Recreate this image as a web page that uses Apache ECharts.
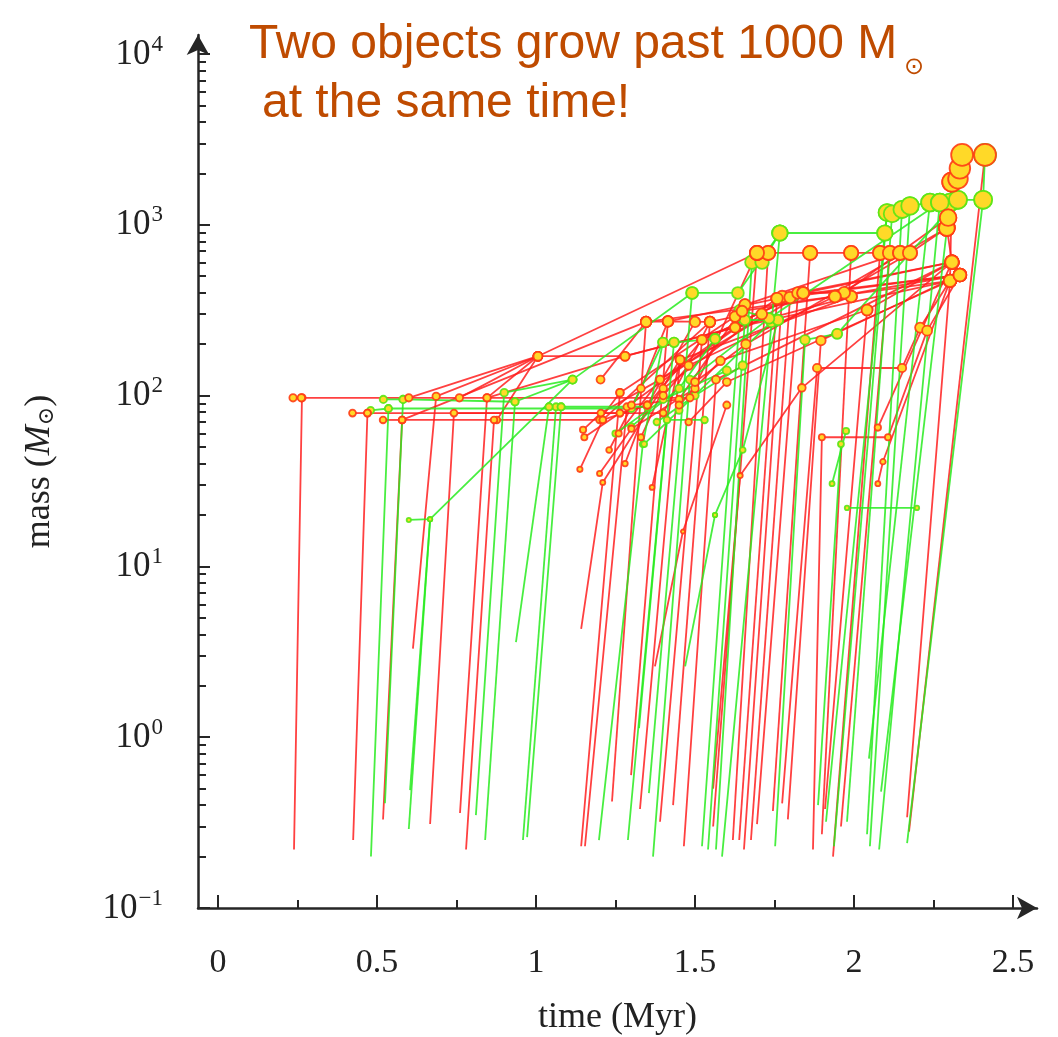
<!DOCTYPE html>
<html><head><meta charset="utf-8">
<script src="https://cdn.jsdelivr.net/npm/echarts@6/dist/echarts.min.js"></script>
<style>html,body{margin:0;padding:0;background:#fff}#c{width:1058px;height:1037px}</style>
</head><body><div id="c"></div>
<script>
// ---- tick labels ----
const xTicks = [0, 0.5, 1, 1.5, 2, 2.5];
const xMinorTicks = [0.25, 0.75, 1.25, 1.75, 2.25];
const yDecades = [-1, 0, 1, 2, 3, 4];          // exponents of 10 (mass in M_sun)
const yMinorFactors = [2, 3, 4, 5, 6, 7, 8, 9];

// ---- merger-tree tracks: [time (Myr), mass (M_sun)] ----
const redTracks = [
 [[0.239,0.22],[0.264,97],[1.484,97],[1.695,684]],
 [[0.236,97],[0.262,97]],
 [[0.425,0.25],[0.47,79],[1.40,79],[1.547,270]],
 [[0.423,79],[0.47,79]],
 [[0.519,0.33],[0.579,72],[0.877,72],[1.006,170]],
 [[0.519,72],[0.579,72]],
 [[0.613,3.3],[0.686,99],[1.006,170]],
 [[0.667,0.31],[0.742,79],[1.264,79],[1.35,88]],
 [[0.761,0.36],[0.846,97],[1.006,170]],
 [[0.78,0.22],[0.868,72],[1.2,72],[1.264,104]],
 [[0.6,97],[1.006,170],[1.28,170],[1.626,250]],
 [[0.759,97],[1.006,170]],
 [[0.846,97],[1.28,170]],
 [[0.579,72],[1.346,270],[1.415,272],[1.547,270],[1.626,290]],
 [[1.138,37],[1.21,72],[1.35,88],[1.5,270]],
 [[1.142,4.3],[1.21,31],[1.453,162]],
 [[1.142,0.23],[1.264,104],[1.626,290]],
 [[1.154,0.23],[1.286,86],[1.758,370]],
 [[1.148,63],[1.204,79],[1.39,124],[1.84,399]],
 [[1.152,57],[1.264,79]],
 [[1.203,124],[1.346,270]],
 [[1.21,72],[1.547,270]],
 [[1.2,35],[1.3,64],[1.5,110]],
 [[1.23,48],[1.33,110],[1.415,272]],
 [[1.26,60],[1.39,124],[1.626,250]],
 [[1.28,40],[1.35,88],[1.522,212]],
 [[1.30,88],[1.45,95],[1.657,340]],
 [[1.33,57],[1.40,110],[1.71,300]],
 [[1.40,100],[1.48,150],[1.94,380]],
 [[1.45,88],[1.58,160],[2.041,317]],
 [[1.48,70],[1.6,120],[2.302,470]],
 [[1.50,120],[1.66,200],[2.292,957]],
 [[1.239,0.42],[1.346,270]],
 [[1.299,0.6],[1.415,272]],
 [[1.327,0.38],[1.453,162],[1.991,380]],
 [[1.365,29],[1.453,162]],
 [[1.374,2.6],[1.462,16],[1.6,88]],
 [[1.39,0.32],[1.522,212],[1.84,399]],
 [[1.431,0.4],[1.547,270]],
 [[1.465,0.23],[1.566,124],[2.308,604]],
 [[1.557,0.3],[1.695,684]],
 [[1.557,0.5],[1.642,34],[1.836,111],[2.308,604]],
 [[1.619,0.25],[1.73,684]],
 [[1.639,0.25],[1.758,370]],
 [[1.654,0.22],[1.774,380],[2.333,508]],
 [[1.676,0.25],[1.799,375]],
 [[1.695,0.31],[1.824,399],[2.308,604]],
 [[1.745,0.37],[1.862,684]],
 [[1.774,0.41],[1.884,145],[2.151,145],[2.208,250],[2.302,470]],
 [[1.792,0.33],[1.896,210],[2.333,508]],
 [[1.871,0.22],[1.899,57],[2.107,57],[2.23,240],[2.333,508]],
 [[1.899,0.27],[1.991,684]],
 [[1.909,0.38],[2.041,317],[2.308,604]],
 [[1.934,0.2],[2.082,684]],
 [[1.959,0.3],[2.113,684]],
 [[2.075,30.5],[2.091,41],[2.302,470]],
 [[2.075,65],[2.308,604]],
 [[1.695,684],[1.73,684],[1.862,684],[1.991,684],[2.082,684],[2.113,684],[2.145,684],[2.176,684],[2.292,957]],
 [[2.167,0.34],[2.302,470],[2.308,1780]],
 [[2.173,0.28],[2.412,2565]],
 [[2.292,957],[2.296,1100],[2.308,1780],[2.327,1860],[2.333,2140],[2.34,2565]],
 [[2.302,470],[2.333,508],[2.308,604],[2.292,957]],
 [[1.28,170],[1.991,380]],
 [[1.346,270],[2.302,470]],
 [[1.415,272],[2.308,604]],
 [[1.626,250],[2.302,470]],
 [[1.758,370],[2.333,508]],
 [[1.84,399],[1.969,400],[2.296,1100]],
 [[1.94,380],[2.333,508]],
 [[1.006,170],[1.695,684]],
 [[1.522,212],[1.84,399]],
 [[1.657,340],[2.145,684]],
 [[1.648,312],[1.94,380],[2.176,684]]
];

const greenTracks = [
 [[0.481,0.2],[0.536,84],[1.30,84],[1.399,205]],
 [[0.48,82],[0.536,84]],
 [[0.525,0.41],[0.582,95],[0.934,92],[1.115,124]],
 [[0.52,95],[0.582,95]],
 [[0.6,0.29],[0.667,18.9]],
 [[0.604,0.49],[0.667,18.9]],
 [[0.6,18.7],[0.667,18.9],[1.115,124],[1.491,399],[1.635,399],[1.767,895]],
 [[0.811,0.35],[0.9,104],[1.115,124]],
 [[0.84,0.25],[0.934,92]],
 [[0.937,3.6],[1.041,86]],
 [[0.959,0.25],[1.063,86]],
 [[0.972,0.26],[1.079,86],[1.35,86]],
 [[1.041,86],[1.079,86]],
 [[1.198,0.25],[1.336,52],[1.399,205],[1.434,205]],
 [[1.289,0.25],[1.434,205],[1.563,215]],
 [[1.324,1.13],[1.412,72],[1.53,72]],
 [[1.355,0.47],[1.491,399]],
 [[1.368,0.2],[1.484,124],[1.733,283]],
 [[1.25,60],[1.4,95],[1.6,140]],
 [[1.3,66],[1.45,110],[1.563,215]],
 [[1.38,70],[1.5,100],[1.65,150]],
 [[1.34,52],[1.45,82],[1.74,270]],
 [[1.469,2.6],[1.563,20]],
 [[1.563,20],[1.65,48],[1.761,277]],
 [[1.522,0.23],[1.642,317],[1.733,283]],
 [[1.541,0.22],[1.657,277],[1.761,277]],
 [[1.566,0.22],[1.679,604],[1.711,604],[1.767,895]],
 [[1.585,0.2],[1.767,895],[2.097,895],[2.104,1180],[2.12,1160],[2.151,1230],[2.176,1290],[2.239,1350],[2.27,1350],[2.302,1350],[2.327,1400],[2.406,1400],[2.412,2565]],
 [[1.752,0.23],[1.846,212],[1.947,230]],
 [[1.887,0.4],[1.959,52]],
 [[1.912,0.32],[2.097,895]],
 [[1.937,0.23],[2.104,1180]],
 [[1.978,0.32],[2.12,1160]],
 [[2.041,0.27],[2.151,1230]],
 [[2.05,0.23],[2.176,1290]],
 [[2.047,0.75],[2.239,1350]],
 [[2.079,0.22],[2.27,1350]],
 [[2.085,0.48],[2.302,1350]],
 [[2.167,0.24],[2.406,1400]],
 [[1.931,30.5],[1.975,62]],
 [[1.978,22],[2.198,22]],
 [[1.733,283],[2.27,1350]],
 [[1.947,230],[2.327,1400]]
];

// ---- build option ----
const RED = 'rgba(255,30,30,0.85)';
const GREEN = 'rgba(40,235,30,0.85)';
const FILL = '#ffd928';
const toXY = p => [p[0], Math.log10(p[1])];

const series = [];
function addLines(tracks, color) {
  tracks.forEach(tr => {
    series.push({
      type: 'line', xAxisIndex: 0, yAxisIndex: 0, silent: true,
      data: tr.map(toXY), showSymbol: false, symbol: 'none',
      lineStyle: { color: color, width: 1.8 }, z: 2, animation: false
    });
  });
}
addLines(redTracks, RED);
addLines(greenTracks, GREEN);

function markerData(tracks) {
  const out = [];
  tracks.forEach(tr => tr.forEach(p => { if (p[1] >= 10) out.push(toXY(p)); }));
  return out;
}
const sizeOf = v => 1.6 * Math.cbrt(Math.pow(10, v[1]));
series.push({
  type: 'scatter', silent: true, z: 4, animation: false,
  data: markerData(greenTracks), symbolSize: sizeOf,
  itemStyle: { color: FILL, borderColor: 'rgba(90,230,20,0.9)', borderWidth: 1.8, opacity: 1 }
});
series.push({
  type: 'scatter', silent: true, z: 5, animation: false,
  data: markerData(redTracks), symbolSize: sizeOf,
  itemStyle: { color: FILL, borderColor: 'rgba(255,60,20,0.9)', borderWidth: 1.8, opacity: 1 }
});

const AX = '#262626';
const SERIF = '"Liberation Serif", "DejaVu Serif", serif';
const yMinor = [];
yDecades.slice(0, -1).forEach(n => yMinorFactors.forEach(k => yMinor.push(n + Math.log10(k))));

const option = {
  animation: false,
  backgroundColor: '#fff',
  grid: { left: 198, right: 21, top: 35, bottom: 129, containLabel: false, outerBoundsMode: 'none' },
  xAxis: [{
    type: 'value', min: -0.0629, max: 2.5755,
    name: 'time (Myr)', nameLocation: 'middle', nameGap: 90,
    nameTextStyle: { fontFamily: SERIF, fontSize: 36, color: '#222', lineHeight: 40 },
    axisLine: { show: true, onZero: false, symbol: ['none', 'arrow'], symbolSize: [17, 20], lineStyle: { color: AX, width: 2.5 } },
    axisTick: { show: true, inside: true, length: 13, customValues: xTicks, lineStyle: { color: AX, width: 2 } },
    axisLabel: { customValues: xTicks, fontFamily: SERIF, fontSize: 34, color: '#222', margin: 38, lineHeight: 34 },
    splitLine: { show: false }
  }, {
    type: 'value', min: -0.0629, max: 2.5755, position: 'bottom',
    axisLine: { show: false, onZero: false },
    axisTick: { show: true, inside: true, length: 8, customValues: xMinorTicks, lineStyle: { color: AX, width: 2 } },
    axisLabel: { show: false }, splitLine: { show: false }
  }],
  yAxis: [{
    type: 'value', min: -1, max: 4.111,
    name: '{t|mass (}{i|M}{o|⊙}{t|)}', nameLocation: 'middle', nameGap: 140, nameRotate: 90,
    nameTextStyle: {
      rich: {
        t: { fontFamily: SERIF, fontSize: 36, color: '#222', lineHeight: 40, verticalAlign: 'bottom' },
        i: { fontFamily: SERIF, fontSize: 36, fontStyle: 'italic', color: '#222', lineHeight: 40, verticalAlign: 'bottom' },
        o: { fontFamily: '"DejaVu Serif", serif', fontSize: 22, color: '#222', lineHeight: 40, verticalAlign: 'bottom' }
      }
    },
    axisLine: { show: true, onZero: false, symbol: ['none', 'arrow'], symbolSize: [17, 20], lineStyle: { color: AX, width: 2.5 } },
    axisTick: { show: true, inside: true, length: 12, customValues: yDecades, lineStyle: { color: AX, width: 2 } },
    axisLabel: {
      customValues: yDecades, margin: 35,
      formatter: v => '{b|10}{s|' + (v < 0 ? '\u2212' + (-v) : v) + '}',
      rich: {
        b: { fontFamily: SERIF, fontSize: 35, color: '#222', lineHeight: 36, verticalAlign: 'bottom' },
        s: { fontFamily: SERIF, fontSize: 23, color: '#222', lineHeight: 22, padding: [0, 0, 16, 1], verticalAlign: 'bottom' }
      }
    },
    splitLine: { show: false }
  }, {
    type: 'value', min: -1, max: 4.111, position: 'left',
    axisLine: { show: false, onZero: false },
    axisTick: { show: true, inside: true, length: 8, customValues: yMinor, lineStyle: { color: AX, width: 2 } },
    axisLabel: { show: false }, splitLine: { show: false }
  }],
  graphic: [
    { type: 'text', left: 249, top: 21, style: { text: 'Two objects grow past 1000 M', font: '48px "Liberation Sans", Arial, sans-serif', fill: '#bf4b00' } },
    { type: 'text', left: 904, top: 56, style: { text: '\u2299', font: '24px "DejaVu Sans", sans-serif', fill: '#bf4b00' } },
    { type: 'text', left: 262, top: 80, style: { text: 'at the same time!', font: '48px "Liberation Sans", Arial, sans-serif', fill: '#bf4b00' } }
  ],
  series: series
};

const chart = echarts.init(document.getElementById('c'), null, { renderer: 'canvas' });
chart.setOption(option);
</script>
</body></html>
